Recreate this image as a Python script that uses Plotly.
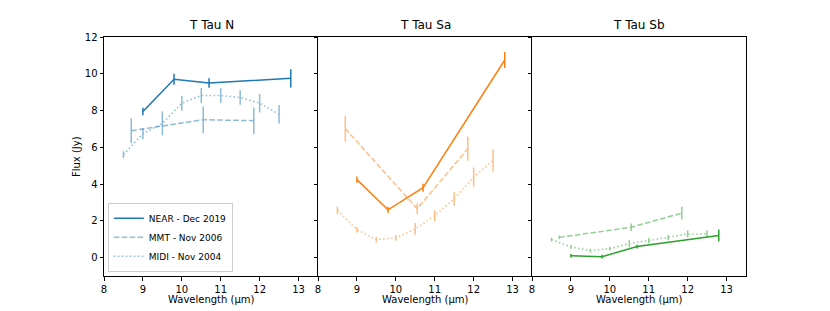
import plotly.graph_objects as go
from plotly.subplots import make_subplots

titles = ["T Tau N", "T Tau Sa", "T Tau Sb"]
colors = ["#1f77b4", "#ff7f0e", "#2ca02c"]

# NEAR - Dec 2019
near_x = [9.0, 9.8, 10.7, 12.8]
near_y = {
    "N":  [7.95, 9.7, 9.5, 9.75],
    "Sa": [4.24, 2.6, 3.8, 10.75],
    "Sb": [0.1, 0.05, 0.6, 1.2],
}
near_e = {
    "N":  [0.2, 0.3, 0.26, 0.5],
    "Sa": [0.17, 0.17, 0.22, 0.43],
    "Sb": [0.1, 0.1, 0.1, 0.33],
}

# MMT - Nov 2006
mmt_x = [8.7, 10.55, 11.85]
mmt_y = {
    "N":  [6.9, 7.5, 7.45],
    "Sa": [7.02, 2.66, 5.92],
    "Sb": [1.1, 1.65, 2.42],
}
mmt_e = {
    "N":  [0.68, 0.72, 0.72],
    "Sa": [0.7, 0.3, 0.65],
    "Sb": [0.1, 0.2, 0.35],
}

# MIDI - Nov 2004
midi_x = [8.5, 9.0, 9.5, 10.0, 10.5, 11.0, 11.5, 12.0, 12.5]
midi_y = {
    "N":  [5.6, 6.74, 7.3, 8.4, 8.82, 8.82, 8.71, 8.4, 7.8],
    "Sa": [2.57, 1.52, 0.98, 1.07, 1.56, 2.28, 3.2, 4.38, 5.29],
    "Sb": [0.98, 0.58, 0.38, 0.49, 0.76, 0.92, 1.1, 1.29, 1.29],
}
midi_e = {
    "N":  [0.18, 0.3, 0.65, 0.41, 0.41, 0.4, 0.4, 0.5, 0.5],
    "Sa": [0.2, 0.15, 0.15, 0.15, 0.32, 0.3, 0.38, 0.52, 0.6],
    "Sb": [0.1, 0.1, 0.1, 0.1, 0.2, 0.15, 0.15, 0.2, 0.2],
}

keys = ["N", "Sa", "Sb"]
x_ticks = [8, 9, 10, 11, 12, 13]
y_ticks = [0, 2, 4, 6, 8, 10, 12]
x_label = "Wavelength (μm)"
y_label = "Flux (Jy)"

fig = make_subplots(rows=1, cols=3, shared_yaxes=True, horizontal_spacing=0)

font = "DejaVu Sans"

for i, k in enumerate(keys):
    c = colors[i]
    col = i + 1
    fig.add_trace(go.Scatter(
        x=near_x, y=near_y[k], mode="lines", name="NEAR - Dec 2019",
        line=dict(color=c, width=1.5),
        error_y=dict(type="data", array=near_e[k], color=c, thickness=1.5, width=0),
        showlegend=(i == 0), legendrank=1,
    ), row=1, col=col)
    fig.add_trace(go.Scatter(
        x=mmt_x, y=mmt_y[k], mode="lines", name="MMT - Nov 2006",
        line=dict(color=c, width=1.5, dash="5.5px,2.4px"), opacity=0.5,
        error_y=dict(type="data", array=mmt_e[k], color=c, thickness=1.5, width=0),
        showlegend=(i == 0), legendrank=2,
    ), row=1, col=col)
    fig.add_trace(go.Scatter(
        x=midi_x, y=midi_y[k], mode="lines", name="MIDI - Nov 2004",
        line=dict(color=c, width=1.5, dash="1.5px,2.5px"), opacity=0.5,
        error_y=dict(type="data", array=midi_e[k], color=c, thickness=1.5, width=0),
        showlegend=(i == 0), legendrank=3,
    ), row=1, col=col)

axis_common = dict(
    showline=True, linecolor="black", linewidth=1,
    ticks="outside", ticklen=3.5, tickwidth=1, tickcolor="black",
    showgrid=False, zeroline=False, automargin=False,
    tickfont=dict(family=font, size=10, color="black"),
)

for i in range(3):
    xa = "xaxis" if i == 0 else f"xaxis{i+1}"
    ya = "yaxis" if i == 0 else f"yaxis{i+1}"
    dom = f"x{'' if i == 0 else i+1} domain"
    fig.layout[xa].update(range=[8, 13.5], tickvals=x_ticks, mirror=True, **axis_common)
    fig.layout[ya].update(
        range=[-1, 12], tickvals=y_ticks, showticklabels=(i == 0),
        mirror=(True if i == 2 else False),
        **axis_common)
    fig.add_annotation(
        text=titles[i], xref=dom, yref="paper",
        x=0.5, y=1, yanchor="bottom", yshift=3, showarrow=False,
        font=dict(family=font, size=12, color="black"))
    fig.add_annotation(
        text=x_label, xref=dom, yref="paper",
        x=0.5, y=0, yanchor="top", yshift=-16, showarrow=False,
        font=dict(family=font, size=10, color="black"))

fig.add_annotation(
    text=y_label, xref="paper", yref="paper", x=0, y=0.5,
    xanchor="right", xshift=-20, textangle=-90, showarrow=False,
    font=dict(family=font, size=10, color="black"))

# page body has an 8px margin; offset the figure so the plot sits as in the reference
fig.update_layout(
    width=814, height=303,
    margin=dict(l=96, r=76, t=29, b=35, autoexpand=False),
    paper_bgcolor="white", plot_bgcolor="white",
    font=dict(family=font, size=10, color="black"),
    legend=dict(
        x=0.006, y=0.018, xanchor="left", yanchor="bottom",
        bgcolor="rgba(255,255,255,0.8)", bordercolor="#cccccc", borderwidth=1,
        font=dict(family=font, size=9, color="black"),
        tracegroupgap=0, itemwidth=30,
    ),
)

fig.write_html("out.html")
